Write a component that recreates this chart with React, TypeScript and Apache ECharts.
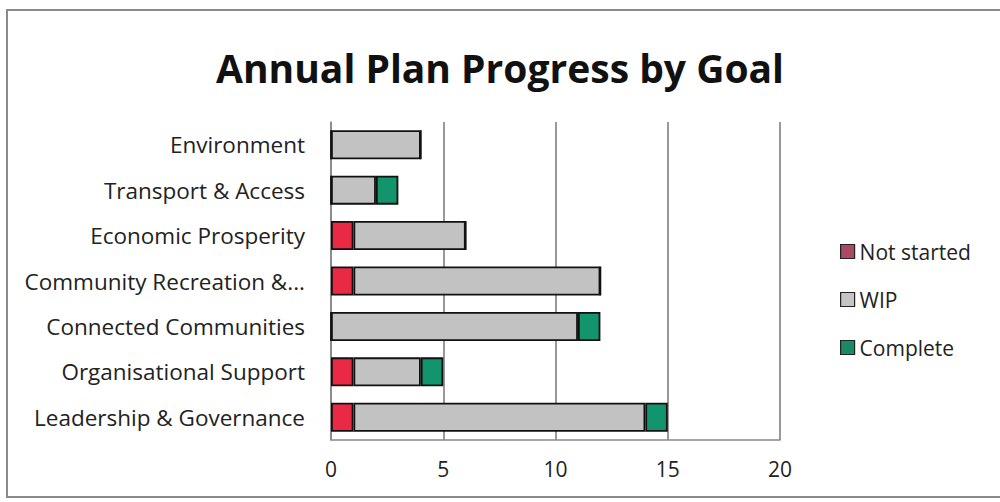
import React, { useEffect, useRef } from "react";
import * as echarts from "echarts";

const categories = [
  "Leadership & Governance",
  "Organisational Support",
  "Connected Communities",
  "Community Recreation &...",
  "Economic Prosperity",
  "Transport & Access",
  "Environment",
];
const notStarted = [1, 1, 0, 1, 1, 0, 0];
const wip = [13, 3, 11, 11, 5, 2, 4];
const complete = [1, 1, 1, 0, 0, 1, 0];
const xTicks = { min: 0, max: 20, interval: 5 };

const FONT = "'Open Sans', sans-serif";

export default function App() {
  const ref = useRef<HTMLDivElement>(null);
  useEffect(() => {
    if (!ref.current) return;
    const chart = echarts.init(ref.current, undefined, { renderer: "svg" });
    const barStyle = (color: string) => ({
      color,
      borderColor: "#111",
      borderWidth: 1.8,
    });
    chart.setOption({
      animation: false,
      backgroundColor: "#fff",
      title: {
        text: "Annual Plan Progress by Goal",
        left: "center",
        top: 43,
        textStyle: {
          fontFamily: FONT,
          fontWeight: "bold",
          fontSize: 39,
          color: "#111",
        },
      },
      graphic: [
        {
          type: "rect",
          shape: { x: 7, y: 10, width: 1000, height: 487 },
          style: { fill: "none", stroke: "#8a8a8a", lineWidth: 2 },
          silent: true,
        },
      ],
      legend: {
        orient: "vertical",
        left: 835,
        top: 236,
        icon: "rect",
        itemWidth: 14,
        itemHeight: 14,
        itemGap: 27,
        textStyle: { fontFamily: FONT, fontSize: 21, color: "#222" },
        data: [
          { name: "Not started", itemStyle: { color: "#a84a66", borderColor: "#222", borderWidth: 1.2 } },
          { name: "WIP", itemStyle: { color: "#c4c4c4", borderColor: "#222", borderWidth: 1.2 } },
          { name: "Complete", itemStyle: { color: "#1a8a66", borderColor: "#222", borderWidth: 1.2 } },
        ],
      },
      grid: { left: 331, right: 220, top: 122, bottom: 62, containLabel: false },
      xAxis: {
        type: "value",
        min: xTicks.min,
        max: xTicks.max,
        interval: xTicks.interval,
        axisLine: { show: true, lineStyle: { color: "#888", width: 1.5 } },
        axisTick: { show: false },
        splitLine: { show: true, lineStyle: { color: "#777", width: 1.5 } },
        axisLabel: {
          fontFamily: FONT,
          fontSize: 21,
          color: "#222",
          margin: 18,
        },
      },
      yAxis: {
        type: "category",
        data: categories,
        axisLine: { show: true, lineStyle: { color: "#888", width: 1.5 } },
        axisTick: { show: false },
        axisLabel: {
          fontFamily: FONT,
          fontSize: 22.5,
          color: "#222",
          margin: 26,
        },
      },
      series: [
        {
          name: "Not started",
          type: "bar",
          stack: "total",
          barWidth: 29,
          data: notStarted,
          itemStyle: barStyle("#ea2a44"),
        },
        {
          name: "WIP",
          type: "bar",
          stack: "total",
          barWidth: 29,
          data: wip,
          itemStyle: barStyle("#c2c2c2"),
        },
        {
          name: "Complete",
          type: "bar",
          stack: "total",
          barWidth: 29,
          data: complete,
          itemStyle: barStyle("#12946c"),
        },
      ],
    });
    return () => chart.dispose();
  }, []);
  return (
    <div
      ref={ref}
      style={{ position: "absolute", left: 0, top: 0, width: 1000, height: 502 }}
    />
  );
}
